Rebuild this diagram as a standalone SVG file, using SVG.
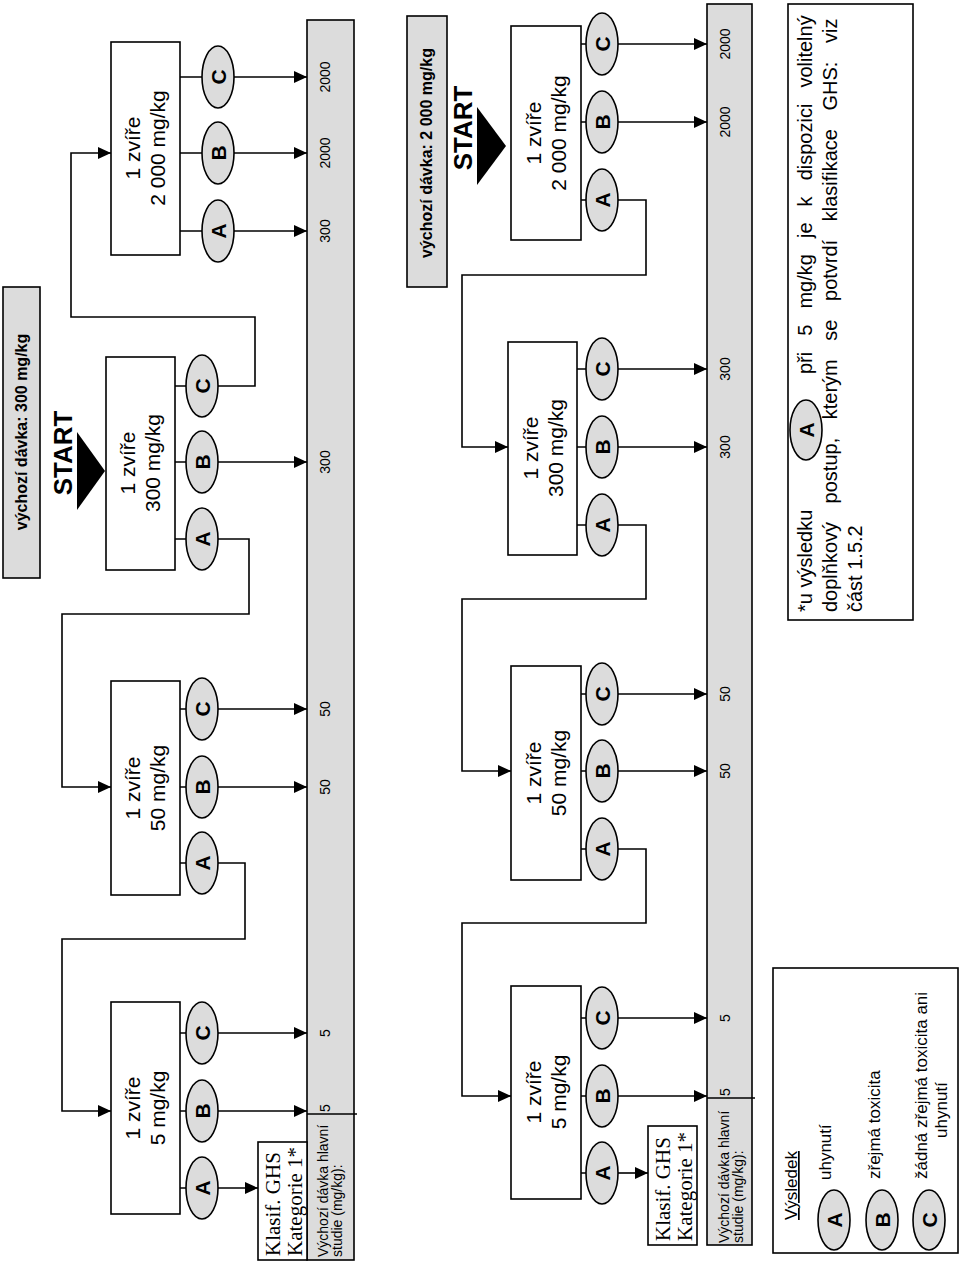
<svg xmlns="http://www.w3.org/2000/svg" width="960" height="1265" viewBox="0 0 960 1265">
<defs>
<marker id="ah" markerUnits="userSpaceOnUse" markerWidth="14" markerHeight="12" refX="13" refY="6" orient="auto"><path d="M0,0 L13,6 L0,12 z" fill="#000"/></marker>
</defs>
<style>
.box{fill:#fff;stroke:#000;stroke-width:1.6}
.gray{fill:#dcdcdc;stroke:#000;stroke-width:1.6}
.ell{fill:#dcdcdc;stroke:#000;stroke-width:1.6}
.ln{fill:none;stroke:#000;stroke-width:1.6}
.arr{fill:none;stroke:#000;stroke-width:1.6;marker-end:url(#ah)}
.tri{fill:#000}
text{font-family:"Liberation Sans",Arial,sans-serif;fill:#000}
.t21{font-size:21px;text-anchor:middle}
.let{font-size:21px;font-weight:bold;text-anchor:middle}
.lab{font-size:14px;text-anchor:middle}
.lab0{font-size:14px}
.ser{font-family:"Liberation Serif","Times New Roman",serif;font-size:21px}
.ttl{font-size:16px;font-weight:bold;text-anchor:middle}
.start{font-size:26px;font-weight:bold;text-anchor:middle}
.leg{font-size:17px}
.fn{font-size:20px}
</style>

<!-- LEFT PANEL -->
<g id="L-title">
<rect class="gray" x="3" y="287" width="37" height="291"/>
<text class="ttl" transform="translate(27,432) rotate(-90)">výchozí dávka: 300 mg/kg</text>
</g>
<g id="L-start">
<text class="start" transform="translate(72,453) rotate(-90)">START</text>
<polygon class="tri" points="77,432 105,471 77,510"/>
</g>
<g id="L-bar">
<rect class="gray" x="307" y="20" width="47" height="1240"/>
<line class="ln" x1="307" y1="1114" x2="357" y2="1114"/>
<text class="lab" transform="translate(330,77) rotate(-90)">2000</text>
<text class="lab" transform="translate(330,153) rotate(-90)">2000</text>
<text class="lab" transform="translate(330,231) rotate(-90)">300</text>
<text class="lab" transform="translate(330,462) rotate(-90)">300</text>
<text class="lab" transform="translate(330,709) rotate(-90)">50</text>
<text class="lab" transform="translate(330,787) rotate(-90)">50</text>
<text class="lab" transform="translate(330,1033) rotate(-90)">5</text>
<text class="lab0" transform="translate(330,1112) rotate(-90)">5</text>
<text class="lab0" transform="translate(328,1257) rotate(-90)">Výchozí dávka hlavní</text>
<text class="lab0" transform="translate(342,1257) rotate(-90)">studie (mg/kg):</text>
</g>
<g id="L2000">
<rect class="box" x="111" y="42" width="69" height="213"/>
<text class="t21" transform="translate(140,148) rotate(-90)">1 zvíře</text>
<text class="t21" transform="translate(165,148) rotate(-90)">2 000 mg/kg</text>
</g>
<g id="L2000-C"><ellipse class="ell" cx="218" cy="77" rx="16" ry="31"/><text class="let" transform="translate(225.5,77) rotate(-90)">C</text></g>
<g id="L2000-B"><ellipse class="ell" cx="218" cy="153" rx="16" ry="31"/><text class="let" transform="translate(225.5,153) rotate(-90)">B</text></g>
<g id="L2000-A"><ellipse class="ell" cx="218" cy="231" rx="16" ry="31"/><text class="let" transform="translate(225.5,231) rotate(-90)">A</text></g>
<g id="L300">
<rect class="box" x="106" y="357" width="69" height="213"/>
<text class="t21" transform="translate(135,463) rotate(-90)">1 zvíře</text>
<text class="t21" transform="translate(160,463) rotate(-90)">300 mg/kg</text>
</g>
<g id="L300-C"><ellipse class="ell" cx="202" cy="386" rx="16" ry="31"/><text class="let" transform="translate(209.5,386) rotate(-90)">C</text></g>
<g id="L300-B"><ellipse class="ell" cx="202" cy="462" rx="16" ry="31"/><text class="let" transform="translate(209.5,462) rotate(-90)">B</text></g>
<g id="L300-A"><ellipse class="ell" cx="202" cy="539" rx="16" ry="31"/><text class="let" transform="translate(209.5,539) rotate(-90)">A</text></g>
<g id="L50">
<rect class="box" x="111" y="681" width="69" height="214"/>
<text class="t21" transform="translate(140,788) rotate(-90)">1 zvíře</text>
<text class="t21" transform="translate(165,788) rotate(-90)">50 mg/kg</text>
</g>
<g id="L50-C"><ellipse class="ell" cx="202" cy="709" rx="16" ry="31"/><text class="let" transform="translate(209.5,709) rotate(-90)">C</text></g>
<g id="L50-B"><ellipse class="ell" cx="202" cy="787" rx="16" ry="31"/><text class="let" transform="translate(209.5,787) rotate(-90)">B</text></g>
<g id="L50-A"><ellipse class="ell" cx="202" cy="863" rx="16" ry="31"/><text class="let" transform="translate(209.5,863) rotate(-90)">A</text></g>
<g id="L5">
<rect class="box" x="111" y="1002" width="69" height="212"/>
<text class="t21" transform="translate(140,1108) rotate(-90)">1 zvíře</text>
<text class="t21" transform="translate(165,1108) rotate(-90)">5 mg/kg</text>
</g>
<g id="L5-C"><ellipse class="ell" cx="202" cy="1033" rx="16" ry="31"/><text class="let" transform="translate(209.5,1033) rotate(-90)">C</text></g>
<g id="L5-B"><ellipse class="ell" cx="202" cy="1111" rx="16" ry="31"/><text class="let" transform="translate(209.5,1111) rotate(-90)">B</text></g>
<g id="L5-A"><ellipse class="ell" cx="202" cy="1188" rx="16" ry="31"/><text class="let" transform="translate(209.5,1188) rotate(-90)">A</text></g>
<g id="L-klasif">
<rect class="box" x="258" y="1142" width="49" height="118"/>
<text class="ser" transform="translate(280,1256) rotate(-90)">Klasif. GHS</text>
<text class="ser" transform="translate(302,1256) rotate(-90)">Kategorie 1*</text>
</g>

<!-- RIGHT PANEL -->
<g id="R-title">
<rect class="gray" x="407" y="16" width="40" height="271"/>
<text class="ttl" transform="translate(432,153) rotate(-90)">výchozí dávka: 2 000 mg/kg</text>
</g>
<g id="R-start">
<text class="start" transform="translate(472,128) rotate(-90)">START</text>
<polygon class="tri" points="477,107 506,146 477,185"/>
</g>
<g id="R-bar">
<rect class="gray" x="707" y="4" width="45" height="1241"/>
<line class="ln" x1="707" y1="1098" x2="755" y2="1098"/>
<text class="lab" transform="translate(730,44) rotate(-90)">2000</text>
<text class="lab" transform="translate(730,122) rotate(-90)">2000</text>
<text class="lab" transform="translate(730,369) rotate(-90)">300</text>
<text class="lab" transform="translate(730,447) rotate(-90)">300</text>
<text class="lab" transform="translate(730,694) rotate(-90)">50</text>
<text class="lab" transform="translate(730,771) rotate(-90)">50</text>
<text class="lab" transform="translate(730,1018) rotate(-90)">5</text>
<text class="lab0" transform="translate(730,1096) rotate(-90)">5</text>
<text class="lab0" transform="translate(729,1243) rotate(-90)">Výchozí dávka hlavní</text>
<text class="lab0" transform="translate(743,1243) rotate(-90)">studie (mg/kg):</text>
</g>
<g id="R2000">
<rect class="box" x="511" y="26" width="70" height="214"/>
<text class="t21" transform="translate(541,133) rotate(-90)">1 zvíře</text>
<text class="t21" transform="translate(566,133) rotate(-90)">2 000 mg/kg</text>
</g>
<g id="R2000-C"><ellipse class="ell" cx="602" cy="44" rx="16" ry="31"/><text class="let" transform="translate(609.5,44) rotate(-90)">C</text></g>
<g id="R2000-B"><ellipse class="ell" cx="602" cy="122" rx="16" ry="31"/><text class="let" transform="translate(609.5,122) rotate(-90)">B</text></g>
<g id="R2000-A"><ellipse class="ell" cx="602" cy="200" rx="16" ry="31"/><text class="let" transform="translate(609.5,200) rotate(-90)">A</text></g>
<g id="R300">
<rect class="box" x="508" y="342" width="69" height="213"/>
<text class="t21" transform="translate(538,448) rotate(-90)">1 zvíře</text>
<text class="t21" transform="translate(563,448) rotate(-90)">300 mg/kg</text>
</g>
<g id="R300-C"><ellipse class="ell" cx="602" cy="369" rx="16" ry="31"/><text class="let" transform="translate(609.5,369) rotate(-90)">C</text></g>
<g id="R300-B"><ellipse class="ell" cx="602" cy="447" rx="16" ry="31"/><text class="let" transform="translate(609.5,447) rotate(-90)">B</text></g>
<g id="R300-A"><ellipse class="ell" cx="602" cy="525" rx="16" ry="31"/><text class="let" transform="translate(609.5,525) rotate(-90)">A</text></g>
<g id="R50">
<rect class="box" x="511" y="666" width="70" height="214"/>
<text class="t21" transform="translate(541,773) rotate(-90)">1 zvíře</text>
<text class="t21" transform="translate(566,773) rotate(-90)">50 mg/kg</text>
</g>
<g id="R50-C"><ellipse class="ell" cx="602" cy="694" rx="16" ry="31"/><text class="let" transform="translate(609.5,694) rotate(-90)">C</text></g>
<g id="R50-B"><ellipse class="ell" cx="602" cy="771" rx="16" ry="31"/><text class="let" transform="translate(609.5,771) rotate(-90)">B</text></g>
<g id="R50-A"><ellipse class="ell" cx="602" cy="849" rx="16" ry="31"/><text class="let" transform="translate(609.5,849) rotate(-90)">A</text></g>
<g id="R5">
<rect class="box" x="511" y="986" width="70" height="213"/>
<text class="t21" transform="translate(541,1092) rotate(-90)">1 zvíře</text>
<text class="t21" transform="translate(566,1092) rotate(-90)">5 mg/kg</text>
</g>
<g id="R5-C"><ellipse class="ell" cx="602" cy="1018" rx="16" ry="31"/><text class="let" transform="translate(609.5,1018) rotate(-90)">C</text></g>
<g id="R5-B"><ellipse class="ell" cx="602" cy="1096" rx="16" ry="31"/><text class="let" transform="translate(609.5,1096) rotate(-90)">B</text></g>
<g id="R5-A"><ellipse class="ell" cx="602" cy="1173" rx="16" ry="31"/><text class="let" transform="translate(609.5,1173) rotate(-90)">A</text></g>
<g id="R-klasif">
<rect class="box" x="648" y="1126" width="49" height="119"/>
<text class="ser" transform="translate(670,1241) rotate(-90)">Klasif. GHS</text>
<text class="ser" transform="translate(692,1241) rotate(-90)">Kategorie 1*</text>
</g>

<!-- LEGEND -->
<g id="legend">
<rect class="box" x="773" y="968" width="185" height="285"/>
<text class="leg" text-decoration="underline" transform="translate(797,1220) rotate(-90)">Výsledek</text>
<ellipse class="ell" cx="834" cy="1220" rx="16" ry="30"/><text class="let" transform="translate(841.5,1220) rotate(-90)">A</text>
<ellipse class="ell" cx="882" cy="1220" rx="16" ry="30"/><text class="let" transform="translate(889.5,1220) rotate(-90)">B</text>
<ellipse class="ell" cx="929" cy="1220" rx="16" ry="30"/><text class="let" transform="translate(936.5,1220) rotate(-90)">C</text>
<text class="leg" transform="translate(831,1180) rotate(-90)">uhynutí</text>
<text class="leg" transform="translate(880,1179) rotate(-90)">zřejmá toxicita</text>
<text class="leg" transform="translate(927,1179) rotate(-90)">žádná zřejmá toxicita ani</text>
<text class="leg" text-anchor="middle" transform="translate(947,1110) rotate(-90)">uhynutí</text>
</g>

<!-- FOOTNOTE -->
<g id="footnote">
<rect class="box" x="788" y="4" width="125" height="616"/>
<text class="fn" transform="translate(812,612) rotate(-90)">*u výsledku</text>
<ellipse class="ell" cx="806" cy="430" rx="16" ry="30"/><text class="let" transform="translate(813.5,430) rotate(-90)">A</text>
<text class="fn" word-spacing="10.5" transform="translate(812,374) rotate(-90)">při 5 mg/kg je k dispozici volitelný</text>
<text class="fn" word-spacing="13" transform="translate(837,612) rotate(-90)">doplňkový postup, kterým se potvrdí klasifikace GHS: viz</text>
<text class="fn" transform="translate(862,612) rotate(-90)">část 1.5.2</text>
</g>

<!-- CONNECTORS -->
<g id="connectors">
<path class="ln" d="M180,77 H202 M180,153 H202 M180,231 H202"/>
<path class="arr" d="M234,77 H307"/>
<path class="arr" d="M234,153 H307"/>
<path class="arr" d="M234,231 H307"/>
<path class="ln" d="M175,386 H186 M175,462 H186 M175,539 H186"/>
<path class="arr" d="M218,462 H307"/>
<path class="arr" d="M218,386 H255 V317 H71 V153 H111"/>
<path class="arr" d="M218,539 H249 V614 H62 V787 H111"/>
<path class="ln" d="M180,709 H186 M180,787 H186 M180,863 H186"/>
<path class="arr" d="M218,709 H307"/>
<path class="arr" d="M218,787 H307"/>
<path class="arr" d="M218,863 H245 V939 H62 V1111 H111"/>
<path class="ln" d="M180,1033 H186 M180,1111 H186 M180,1188 H186"/>
<path class="arr" d="M218,1033 H307"/>
<path class="arr" d="M218,1111 H307"/>
<path class="arr" d="M218,1188 H258"/>

<path class="ln" d="M581,44 H586 M581,122 H586 M581,200 H586"/>
<path class="arr" d="M618,44 H707"/>
<path class="arr" d="M618,122 H707"/>
<path class="arr" d="M618,200 H646 V275 H462 V447 H508"/>
<path class="ln" d="M577,369 H586 M577,447 H586 M577,525 H586"/>
<path class="arr" d="M618,369 H707"/>
<path class="arr" d="M618,447 H707"/>
<path class="arr" d="M618,525 H646 V599 H462 V771 H511"/>
<path class="ln" d="M581,694 H586 M581,771 H586 M581,849 H586"/>
<path class="arr" d="M618,694 H707"/>
<path class="arr" d="M618,771 H707"/>
<path class="arr" d="M618,849 H646 V923 H462 V1096 H511"/>
<path class="ln" d="M581,1018 H586 M581,1096 H586 M581,1173 H586"/>
<path class="arr" d="M618,1018 H707"/>
<path class="arr" d="M618,1096 H707"/>
<path class="arr" d="M618,1173 H648"/>
</g>
</svg>
